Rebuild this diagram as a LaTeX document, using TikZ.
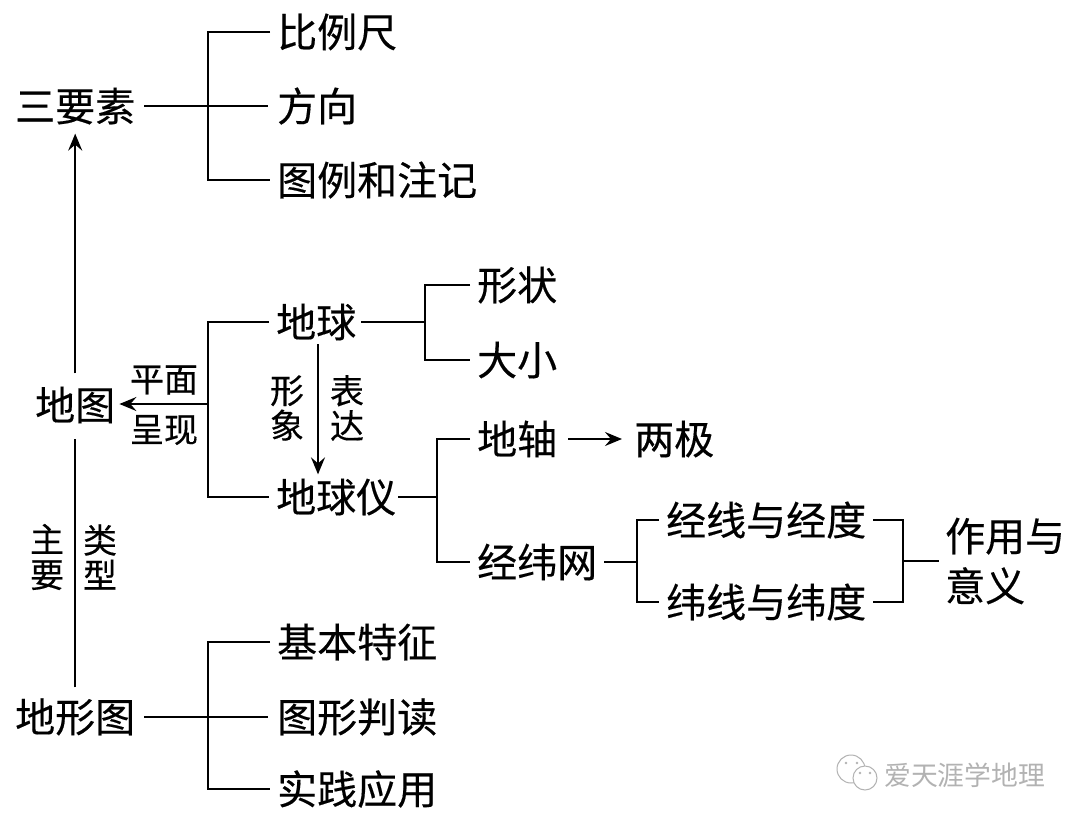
\documentclass[tikz,border=0pt]{standalone}
\usepackage{fontspec}
\usetikzlibrary{arrows.meta}
\newfontfamily\cjk[FakeBold=0.35]{Noto Sans CJK SC}
\newfontfamily\cjklight{Noto Sans CJK SC}
\begin{document}
\begin{tikzpicture}[x=1pt,y=-1pt,
 lab/.style={font=\cjk\fontsize{40}{41}\selectfont,inner sep=0pt,anchor=west,text=black},
 small/.style={font=\cjk\fontsize{34}{35}\selectfont,inner sep=0pt,text=black,align=center},
 wm/.style={font=\cjklight\fontsize{26.8}{28}\selectfont,inner sep=0pt,anchor=west,text=black!30},
 ln/.style={draw=black,line width=2pt},
 gap/.style={shorten <=#1,shorten >=#1},
 arr/.style={draw=black,line width=2pt,-{Stealth[length=17pt,width=14pt,inset=6pt]}}]
\useasboundingbox (0,0) rectangle (1080,823);
\fill[white] (0,0) rectangle (1080,823);
% top group
\node[lab] (sys) at (15,106) {三要素};
\node[lab] (blc) at (277,32) {比例尺};
\node[lab] (fx) at (277,106) {方向};
\node[lab] (tl) at (277,180) {图例和注记};
\coordinate (ja) at (208,106);
\draw[ln,gap=7pt] (blc.west) -| (ja) |- (tl.west);
\draw[ln,gap=9pt] (sys.east) -- (fx.west);
% map
\node[lab] (dt) at (35,405) {地图};
\node[small] (pm) at (164,380) {平面};
\node[small] (cx) at (164,430) {呈现};
\draw[arr,shorten <=13pt,shorten >=9pt] (dt.north) -- (dt.north |- sys.south);
% globe
\node[lab] (dq) at (276,322) {地球};
\node[lab] (dqy) at (276,497) {地球仪};
\coordinate (jb) at (208,404);
\draw[ln,gap=7pt] (dq.west) -| (jb) |- (dqy.west);
\draw[arr,shorten >=4pt] (jb) -- (dt.east |- jb);
\node[small] (xx) at (287,408) {形\\象};
\node[small] (bd) at (347,408) {表\\达};
\coordinate (jc) at (318,344);
\draw[arr,shorten >=4pt] (jc) -- (dqy.north -| jc);
\node[lab] (xz) at (477,285) {形状};
\node[lab] (dx) at (477,360) {大小};
\coordinate (jd) at (425,322);
\draw[ln,shorten <=5pt] (dq.east) -- (jd);
\draw[ln,gap=7pt] (xz.west) -| (jd) |- (dx.west);
\node[lab] (dz) at (477,439) {地轴};
\node[lab] (lj) at (634,439) {两极};
\node[lab] (jwl) at (477,562) {经纬网};
\coordinate (je) at (437,497);
\draw[ln,shorten <=2pt] (dqy.east) -- (je);
\draw[ln,gap=7pt] (dz.west) -| (je) |- (jwl.west);
\draw[arr,shorten <=11pt,shorten >=12pt] (dz.east) -- (lj.west);
\node[lab] (jx) at (666,520) {经线与经度};
\node[lab] (wx) at (666,602) {纬线与纬度};
\coordinate (jf) at (637,562);
\coordinate (jg) at (903,561);
\draw[ln,shorten <=7pt] (jwl.east) -- (jf);
\draw[ln,gap=7pt] (jx.west) -| (jf) |- (wx.west);
\draw[ln,gap=7pt] (jx.east) -| (jg) |- (wx.east);
\node[lab,align=left,font=\cjk\fontsize{40}{50}\selectfont] (zy) at (945,561) {作用与\\意义};
\draw[ln,shorten >=6pt] (jg) -- (zy.west);
% terrain map
\node[lab] (dxt) at (15,717) {地形图};
\node[lab] (jb1) at (277,642) {基本特征};
\node[lab] (tx) at (277,717) {图形判读};
\node[lab] (sj) at (277,789) {实践应用};
\coordinate (jh) at (208,717);
\draw[ln,gap=7pt] (jb1.west) -| (jh) |- (sj.west);
\draw[ln,gap=9pt] (dxt.east) -- (tx.west);
\draw[ln,shorten <=11pt,shorten >=15pt] (dxt.north -| dt.north) -- (dt.south);
\node[small] (zyy) at (47,557) {主\\要};
\node[small] (lx) at (100,557) {类\\型};
% watermark
\node[wm] (wmt) at (884,775) {爱天涯学地理};
\draw[black!30,line width=1pt,fill=white] (851,769) circle (14);
\draw[black!30,line width=1pt,fill=white] (865,778) circle (12);
\foreach \p in {(846,763),(857,763),(860,773),(870,773)} \fill[black!30] \p circle (1.3);
\end{tikzpicture}
\end{document}
